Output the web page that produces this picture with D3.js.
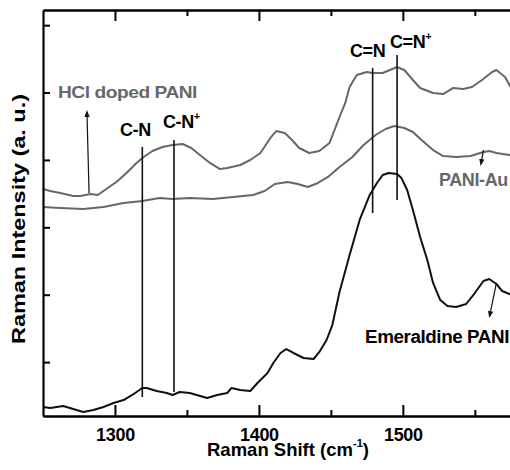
<!DOCTYPE html>
<html><head><meta charset="utf-8">
<script src="https://cdn.jsdelivr.net/npm/d3@7"></script>
<style>
body{margin:0;background:#fff}
svg{display:block}
text{font-family:"Liberation Sans",Arial,Helvetica,sans-serif;font-weight:bold}
</style>
</head><body>
<svg id="c" width="510" height="470"></svg>
<script>
// ---- data (Raman shift in cm^-1, intensity in arbitrary units) ----
const hclShift=[1250,1255,1262,1271,1276,1283,1288,1294,1301,1308,1315,1319,1326,1333,1340,1347,1353,1359,1366,1373,1378,1387,1394,1401,1408,1412,1418,1423,1428,1435,1442,1449,1456,1460,1463,1468,1475,1479,1486,1491,1496,1501,1507,1512,1521,1528,1535,1542,1548,1555,1562,1565,1571,1576,1580];
const hclInt=[3569,3539,3509,3465,3465,3494,3480,3569,3673,3806,3955,4029,4133,4192,4222,4236,4177,4073,3955,3865,3880,3925,3999,4103,4326,4429,4400,4296,4177,4103,4133,4251,4637,4845,5082,5260,5305,5290,5290,5335,5379,5335,5186,5068,4993,4978,5068,5053,5082,5186,5305,5335,5231,5038,4815];

const auShift=[1250,1262,1278,1292,1306,1319,1331,1340,1352,1368,1382,1396,1404,1411,1420,1427,1434,1441,1448,1456,1465,1472,1481,1488,1494,1501,1507,1513,1521,1528,1537,1547,1556,1560,1565,1574,1580];
const auInt=[3302,3287,3272,3302,3361,3391,3435,3420,3435,3420,3450,3480,3539,3643,3673,3643,3598,3658,3747,3895,4044,4207,4370,4459,4504,4474,4415,4296,4147,4058,4044,4058,4118,4133,4103,4073,4058];

const emShift=[1250,1255,1264,1271,1278,1285,1292,1299,1306,1312,1319,1322,1329,1336,1340,1345,1352,1364,1371,1378,1381,1387,1394,1399,1406,1410,1415,1419,1424,1431,1438,1442,1447,1451,1456,1463,1470,1477,1482,1486,1490,1496,1499,1503,1507,1512,1517,1521,1526,1531,1537,1544,1550,1556,1560,1565,1569,1574,1580];
const emInt=[334,319,348,304,259,289,334,393,437,512,616,616,571,541,512,556,541,467,512,541,616,586,571,690,838,987,1135,1194,1135,1061,1046,1150,1328,1550,2040,2589,3109,3480,3658,3776,3806,3791,3732,3554,3257,2856,2515,2174,1921,1832,1818,1862,2025,2203,2233,2159,2055,2010,1966];

// peak marker lines: label, shift, lower and upper intensity
const markerLabels=["C-N","C-N+","C=N","C=N+"];
const markerShift=[1319,1341,1479,1496];
const markerLow=[482,556,3213,3405];
const markerHigh=[4192,4296,5364,5557];

const xTicks=[1300,1400,1500];
const xMinorTicks=[1350,1450,1550];
const yTicks=[1000,2000,3000,4000,5000,6000];

// ---- scales ----
const svg=d3.select('#c');
const x=d3.scaleLinear().domain([1250,1580]).range([43,518]);
const y=d3.scaleLinear().domain([200,6225]).range([416,10]);

// ---- curves ----
const line=d3.line().x(d=>x(d[0])).y(d=>y(d[1]));
function series(sh,it){return sh.map((s,i)=>[s,it[i]]);}
svg.append('path').attr('d',line(series(hclShift,hclInt))).attr('fill','none').attr('stroke','#676767').attr('stroke-width',2).attr('stroke-linejoin','round');
svg.append('path').attr('d',line(series(auShift,auInt))).attr('fill','none').attr('stroke','#676767').attr('stroke-width',2).attr('stroke-linejoin','round');
svg.append('path').attr('d',line(series(emShift,emInt))).attr('fill','none').attr('stroke','#111').attr('stroke-width',2).attr('stroke-linejoin','round');

// marker lines
markerShift.forEach((s,i)=>{
  svg.append('line').attr('x1',x(s)).attr('x2',x(s)).attr('y1',y(markerLow[i])).attr('y2',y(markerHigh[i]))
    .attr('stroke','#111').attr('stroke-width',1.6);
});

// ---- axes ----
function styleAxis(g){
  g.selectAll('.domain').attr('stroke','#000').attr('stroke-width',2.2);
  g.selectAll('.tick line').attr('stroke','#000').attr('stroke-width',2);
}
const gBottom=svg.append('g').attr('transform','translate(0,416)')
  .call(d3.axisBottom(x).tickValues(xTicks).tickSizeInner(-11).tickSizeOuter(0).tickPadding(12).tickFormat(d3.format('d')));
styleAxis(gBottom);
gBottom.selectAll('.tick text').attr('font-size',18).attr('fill','#000').attr('font-family','"Liberation Sans",Arial,sans-serif').attr('font-weight','bold').attr('letter-spacing','-0.3');
const gBottomMinor=svg.append('g').attr('transform','translate(0,416)')
  .call(d3.axisBottom(x).tickValues(xMinorTicks).tickSizeInner(-6).tickSizeOuter(0).tickFormat(''));
styleAxis(gBottomMinor);
const gTop=svg.append('g').attr('transform','translate(0,10)')
  .call(d3.axisTop(x).tickValues(xTicks).tickSizeInner(-11).tickSizeOuter(0).tickFormat(''));
styleAxis(gTop);
const gTopMinor=svg.append('g').attr('transform','translate(0,10)')
  .call(d3.axisTop(x).tickValues(xMinorTicks).tickSizeInner(-6).tickSizeOuter(0).tickFormat(''));
styleAxis(gTopMinor);
const gLeft=svg.append('g').attr('transform','translate(43,0)')
  .call(d3.axisLeft(y).tickValues(yTicks).tickSizeInner(-7).tickSizeOuter(0).tickFormat(''));
styleAxis(gLeft);
const gRight=svg.append('g').attr('transform','translate(518,0)')
  .call(d3.axisRight(y).tickValues(yTicks).tickSizeInner(-7).tickSizeOuter(0).tickFormat(''));
styleAxis(gRight);

// ---- axis titles ----
const xt=svg.append('text').attr('x',207).attr('y',456).attr('font-size',18.5).attr('fill','#000');
xt.append('tspan').text('Raman Shift (cm');
xt.append('tspan').attr('font-size',11).attr('dy',-9).text('-1');
xt.append('tspan').attr('font-size',18.5).attr('dy',9).text(')');
svg.append('text').attr('transform','translate(25,219) rotate(-90)').attr('text-anchor','middle')
  .attr('font-size',19).attr('fill','#000').attr('textLength',250).attr('lengthAdjust','spacingAndGlyphs')
  .text('Raman Intensity (a. u.)');

// ---- annotations ----
function label(txt,px,py,col,size,sup,len){
  const t=svg.append('text').attr('x',px).attr('y',py).attr('font-size',size).attr('fill',col).attr('letter-spacing','-0.4');
  t.append('tspan').text(txt);
  if(sup) t.append('tspan').attr('font-size',11).attr('dy',-8).text(sup);
  if(len) t.attr('textLength',len).attr('lengthAdjust','spacingAndGlyphs');
  return t;
}
label('HCl doped PANI',58,98,'#676767',17,null,139);
label('C-N',120,136,'#000',18);
label('C-N',163,128,'#000',18,'+');
label('C=N',350,57,'#000',18);
label('C=N',390,48,'#000',18,'+');
label('PANI-Au',439,186,'#676767',18);
label('Emeraldine PANI',365,343,'#000',18,null,144);

// arrows: [fromShift, fromInt, toShift, toInt]
const arrows=[[1282,3509,1280.5,4741],[1556,4147,1554,3910],[1565,2174,1560,1654]];
arrows.forEach(a=>{
  const x1=x(a[0]),y1=y(a[1]),x2=x(a[2]),y2=y(a[3]);
  const ang=Math.atan2(y2-y1,x2-x1),L=7,W=2.6;
  const bx=x2-L*Math.cos(ang),by=y2-L*Math.sin(ang);
  svg.append('line').attr('x1',x1).attr('y1',y1).attr('x2',bx).attr('y2',by).attr('stroke','#111').attr('stroke-width',1.2);
  const px=-Math.sin(ang)*W,py=Math.cos(ang)*W;
  svg.append('path').attr('d',`M${x2},${y2}L${bx+px},${by+py}L${bx-px},${by-py}Z`).attr('fill','#111');
});
</script>
</body></html>
